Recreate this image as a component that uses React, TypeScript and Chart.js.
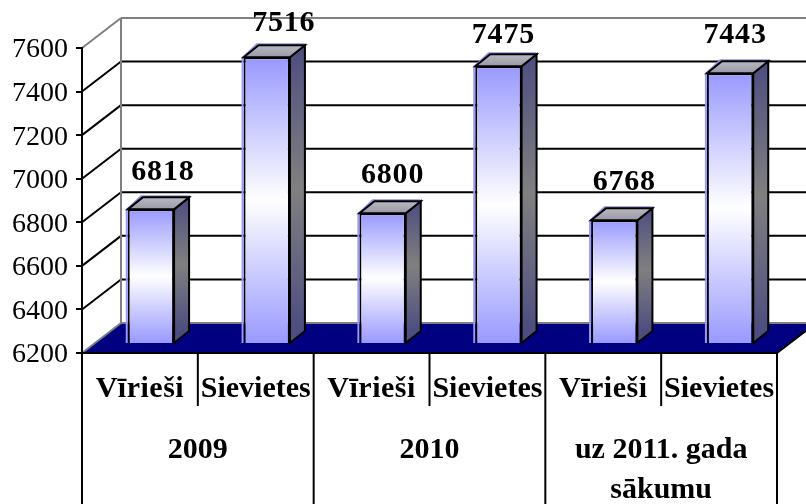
import React, { useEffect, useRef } from "react";
import { Chart, registerables } from "chart.js";

Chart.register(...registerables);

const categories = ["Vīrieši", "Sievietes", "Vīrieši", "Sievietes", "Vīrieši", "Sievietes"];
const values = [6818, 7516, 6800, 7475, 6768, 7443];
const groups = [["2009"], ["2010"], ["uz 2011. gada", "sākumu"]];
const labelNudgeX = [12, 17, 10, 5, 10, 5];
const labelBaselineGap = [29, 26, 30, 23, 30, 30];

const SERIF = '"Liberation Serif", "Times New Roman", serif';
const DEPTH_X = 39;
const DEPTH_Y = 30;
const BAR_DX = 11;
const BAR_DY = 9;
const SIDE_X = 15;
const SIDE_Y = 12;

function line(ctx: CanvasRenderingContext2D, x1: number, y1: number, x2: number, y2: number, color: string, w = 2) {
  ctx.strokeStyle = color;
  ctx.lineWidth = w;
  ctx.beginPath();
  ctx.moveTo(x1, y1);
  ctx.lineTo(x2, y2);
  ctx.stroke();
}

function poly(ctx: CanvasRenderingContext2D, pts: number[][], fill: any, stroke?: string, w = 2) {
  ctx.beginPath();
  pts.forEach((p, i) => (i ? ctx.lineTo(p[0], p[1]) : ctx.moveTo(p[0], p[1])));
  ctx.closePath();
  ctx.fillStyle = fill;
  ctx.fill();
  if (stroke) {
    ctx.strokeStyle = stroke;
    ctx.lineWidth = w;
    ctx.lineJoin = "miter";
    ctx.stroke();
  }
}

const box3d = {
  id: "box3d",
  beforeDraw(chart: any) {
    const { ctx, scales, chartArea } = chart;
    const { left, right, top, bottom } = chartArea;
    const y = scales.y;
    ctx.save();
    // floor
    poly(
      ctx,
      [
        [left, bottom],
        [left + DEPTH_X, bottom - DEPTH_Y],
        [right + DEPTH_X, bottom - DEPTH_Y],
        [right, bottom],
      ],
      "#000080"
    );
    // grid on the walls
    y.ticks.forEach((t: any) => {
      const py = y.getPixelForValue(t.value);
      const isEdge = t.value === y.min || t.value === y.max;
      const c = isEdge ? "#808080" : "#000000";
      line(ctx, left, py, left + DEPTH_X, py - DEPTH_Y, c);
      line(ctx, left + DEPTH_X, py - DEPTH_Y, right + DEPTH_X, py - DEPTH_Y, c);
    });
    line(ctx, left + DEPTH_X, top - DEPTH_Y, left + DEPTH_X, bottom - DEPTH_Y, "#808080");
    line(ctx, right, bottom, right + DEPTH_X, bottom - DEPTH_Y, "#000000");
    ctx.restore();
  },
  beforeDatasetsDraw(chart: any) {
    const { ctx } = chart;
    const meta = chart.getDatasetMeta(0);
    ctx.save();
    ctx.translate(BAR_DX, -BAR_DY);
    meta.data.forEach((el: any) => {
      const r = el.x + el.width / 2;
      const l = el.x - el.width / 2;
      const front = ctx.createLinearGradient(0, el.y, 0, el.base);
      front.addColorStop(0, "#9999ff");
      front.addColorStop(0.5, "#ffffff");
      front.addColorStop(1, "#9999ff");
      el.options = { ...el.options, backgroundColor: front };
      const side = ctx.createLinearGradient(0, el.y - SIDE_Y, 0, el.base - SIDE_Y);
      side.addColorStop(0, "#4d4d80");
      side.addColorStop(0.5, "#808080");
      side.addColorStop(1, "#4d4d80");
      const topFace = ctx.createLinearGradient(0, el.y - SIDE_Y, 0, el.y);
      topFace.addColorStop(0, "#b8b8c0");
      topFace.addColorStop(1, "#9a9aa8");
      // light fringe of the fill, left of and above the outline
      poly(
        ctx,
        [
          [l - 2, el.y],
          [l + SIDE_X - 2, el.y - SIDE_Y - 2],
          [r + SIDE_X, el.y - SIDE_Y - 2],
          [r, el.y],
        ],
        "#8f8fe8"
      );
      ctx.fillStyle = "#9999ff";
      ctx.fillRect(l - 2, el.y, 2, el.base - el.y);
      poly(
        ctx,
        [
          [r, el.y],
          [r + SIDE_X, el.y - SIDE_Y],
          [r + SIDE_X, el.base - SIDE_Y],
          [r, el.base],
        ],
        side,
        "#000000"
      );
      poly(
        ctx,
        [
          [l, el.y],
          [l + SIDE_X, el.y - SIDE_Y],
          [r + SIDE_X, el.y - SIDE_Y],
          [r, el.y],
        ],
        topFace,
        "#000000"
      );
    });
    // the library's own bars (the front faces) are drawn in this shifted frame
  },
  afterDatasetsDraw(chart: any) {
    const { ctx, scales, chartArea } = chart;
    ctx.restore();
    const meta = chart.getDatasetMeta(0);
    ctx.save();
    ctx.fillStyle = "#000000";
    ctx.textAlign = "center";
    ctx.textBaseline = "alphabetic";
    ctx.font = `bold 30px ${SERIF}`;
    (ctx as any).letterSpacing = "0.8px";
    meta.data.forEach((el: any, i: number) => {
      ctx.fillText(
        String(values[i]),
        el.x + BAR_DX + labelNudgeX[i],
        el.y - BAR_DY - labelBaselineGap[i]
      );
    });

    // two-level category axis
    const x = scales.x;
    const { bottom } = chartArea;
    const h = chart.height;
    const step = x.width / categories.length;
    categories.forEach((c, i) => {
      const px = x.getPixelForValue(i);
      (ctx as any).letterSpacing = c === "Vīrieši" ? "0.5px" : "0px";
      ctx.fillText(c, px, bottom + 44);
      const edge = x.left + (i + 1) * step;
      if (i % 2 === 0) line(ctx, edge, bottom, edge, bottom + 53, "#000000");
    });
    line(ctx, x.left, bottom, x.left, h, "#000000");
    (ctx as any).letterSpacing = "0px";
    groups.forEach((g, i) => {
      const edge = x.left + (i + 1) * step * 2;
      line(ctx, edge, bottom, edge, h, "#000000");
      const cx = x.left + (i + 0.5) * step * 2;
      g.forEach((t, j) => ctx.fillText(t, cx, bottom + 105 + j * 40));
    });
    ctx.restore();
  },
};

export default function App() {
  const ref = useRef<HTMLCanvasElement | null>(null);
  useEffect(() => {
    const chart = new Chart(ref.current as HTMLCanvasElement, {
      type: "bar",
      data: {
        labels: categories,
        datasets: [
          {
            data: values,
            base: 6200,
            barPercentage: 0.4,
            categoryPercentage: 1,
            borderColor: "#000000",
            borderWidth: 2,
            backgroundColor: "#9999ff",
          },
        ],
      },
      plugins: [box3d],
      options: {
        responsive: false,
        animation: false,
        layout: { padding: { top: 48, right: 29, left: 0, bottom: 0 } },
        plugins: { legend: { display: false }, tooltip: { enabled: false } },
        scales: {
          x: {
            afterFit: (s: any) => {
              s.height = 151;
            },
            ticks: { display: false },
            grid: { drawOnChartArea: false, drawTicks: false },
            border: { color: "#000000", width: 2 },
          },
          y: {
            min: 6200,
            max: 7600,
            afterFit: (s: any) => {
              s.width = 82;
            },
            ticks: {
              stepSize: 200,
              color: "#000000",
              padding: 8,
              labelOffset: 2,
              font: { family: SERIF, size: 28 },
              callback: (v: any) => String(v),
            },
            grid: { drawOnChartArea: false, tickLength: 6, color: "#000000", lineWidth: 2 },
            border: { color: "#000000", width: 2 },
          },
        },
      } as any,
    });
    return () => chart.destroy();
  }, []);
  return (
    <div style={{ position: "absolute", left: 0, top: 0, width: 806, height: 504, background: "#fff" }}>
      <canvas ref={ref} width={806} height={504} style={{ display: "block" }} />
    </div>
  );
}
